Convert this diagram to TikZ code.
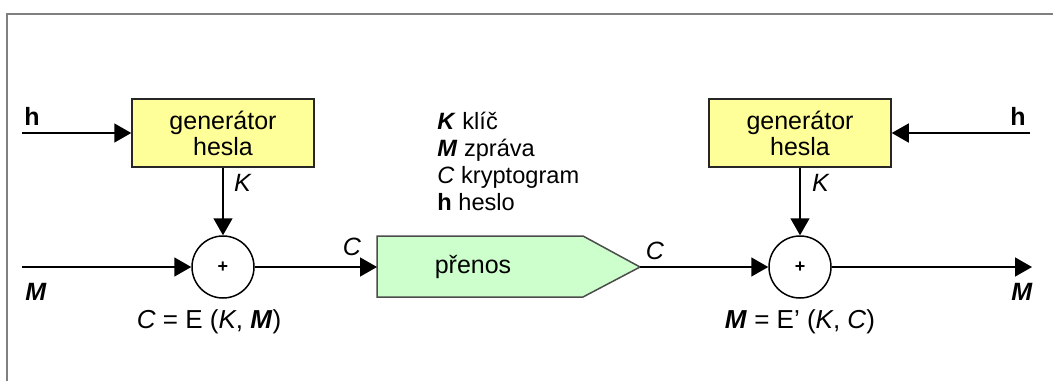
\documentclass[tikz,border=0pt]{standalone}
\usepackage{fontspec}
\setmainfont{Liberation Sans}
\usetikzlibrary{arrows.meta}
\definecolor{genyellow}{RGB}{255,255,153}
\definecolor{txgreen}{RGB}{204,255,204}
\definecolor{framegray}{RGB}{128,128,128}
\begin{document}
\begin{tikzpicture}[x=0.5pt,y=-0.5pt,
  every node/.style={font=\fontsize{12.5}{13}\selectfont},
  gen/.style={draw=black!85, fill=genyellow, line width=0.75pt,
    minimum width=91pt, minimum height=34pt, inner sep=0pt, align=center},
  xorc/.style={draw, circle, line width=0.75pt, minimum size=31pt,
    inner sep=0pt, fill=white, font=\fontsize{9}{10}\selectfont\bfseries},
  flow/.style={line width=0.75pt, -{Triangle[length=8.5pt,width=9.5pt]}},
  lbl/.style={inner sep=0pt},
  eqn/.style={inner sep=0pt, font=\fontsize{13}{14}\selectfont}]
\useasboundingbox (0,0) rectangle (1053,381);

% open frame: top and left edges
\draw[framegray, line width=0.7pt] (7,381) -- (7,14) -- (1053,14);

% password generators
\node[gen] (genL) at (223,133) {generátor\\hesla};
\node[gen] (genR) at (800,133) {generátor\\hesla};

% combining operators
\node[xorc] (xorL) at (223,267) {+};
\node[xorc] (xorR) at (800,267) {+};

% transmission channel
\draw[fill=txgreen, draw=black!70, line width=0.75pt]
  (377,236) -- (583,236) -- (640,267) -- (583,297) -- (377,297) -- cycle;
\node[lbl] (tx) at (473,267) {přenos};
\coordinate (txin) at (377,267);
\coordinate (txout) at (640,267);

% free ends
\coordinate (hL) at (22,133);
\coordinate (mL) at (22,267);
\coordinate (hR) at (1030,133);
\coordinate (mR) at (1032,267);

% connectors
\draw[flow] (hL) -- (genL.west);
\draw[flow] (genL.south) -- (xorL.north);
\draw[flow] (mL) -- (xorL.west);
\draw[flow] (xorL.east) -- (txin);
\draw[flow] (txout) -- (xorR.west);
\draw[flow] (hR) -- (genR.east);
\draw[flow] (genR.south) -- (xorR.north);
\draw[flow] (xorR.east) -- (mR);

% signal labels
\node[lbl] (lhL) at (32,116) {\textbf{h}};
\node[lbl] (lkL) at (243,183) {\textit{K}};
\node[lbl] (lmL) at (36,292) {\textbf{\textit{M}}};
\node[lbl] (lcL) at (352,247) {\textit{C}};
\node[lbl] (lcR) at (655,251) {\textit{C}};
\node[lbl] (lkR) at (821,183) {\textit{K}};
\node[lbl] (lhR) at (1018,116) {\textbf{h}};
\node[lbl] (lmR) at (1022,292) {\textbf{\textit{M}}};

% equations
\node[eqn] (eqL) at (209,322) {\textit{C} = E (\textit{K}, \textbf{\textit{M}})};
\node[eqn] (eqR) at (800,322) {\textbf{\textit{M}} = E’ (\textit{K}, \textit{C})};

% legend
\node[lbl, anchor=west, align=left, font=\fontsize{11.8}{13.5}\selectfont] (legend) at (437,161)
  {\textbf{\textit{K}} klíč\\
   \textbf{\textit{M}} zpráva\\
   \textit{C} kryptogram\\
   \textbf{h} heslo};
\end{tikzpicture}
\end{document}
